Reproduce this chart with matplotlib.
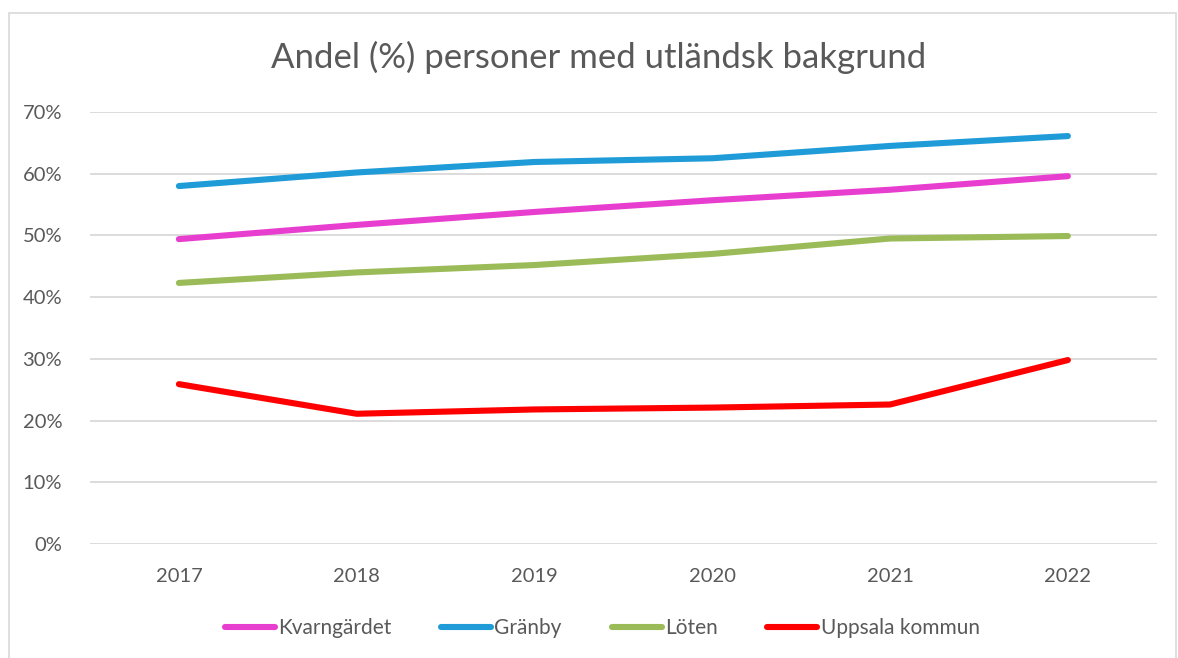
import numpy as np
import matplotlib.pyplot as plt

# data
years = ['2017', '2018', '2019', '2020', '2021', '2022']
kvarngardet = [49.4, 51.7, 53.8, 55.7, 57.4, 59.6]
granby = [58.0, 60.2, 61.9, 62.5, 64.5, 66.1]
loten = [42.3, 44.0, 45.2, 47.0, 49.5, 49.9]
uppsala = [25.9, 21.1, 21.8, 22.1, 22.6, 29.8]

series = [
    ('Kvarngärdet', kvarngardet, '#E83ECF'),
    ('Gränby', granby, '#1F9BD7'),
    ('Löten', loten, '#9BBB59'),
    ('Uppsala kommun', uppsala, '#FF0000'),
]

plt.rcParams['font.family'] = ['Lato', 'DejaVu Sans']

fig = plt.figure(figsize=(11.78, 6.58), dpi=100)
ax = fig.add_axes([0.0764, 0.1733, 0.9056, 0.6565])

x = np.arange(len(years))
for name, vals, col in series:
    ax.plot(x, vals, color=col, lw=4.4, label=name, solid_capstyle='round',
            solid_joinstyle='round')

ax.set_xlim(-0.5, len(years) - 0.5)
ax.set_ylim(0, 70)
ax.set_yticks(range(0, 71, 10))
ax.set_yticklabels([f'{v}%' for v in range(0, 71, 10)])
ax.set_xticks(x)
ax.set_xticklabels(years)
ax.grid(axis='y', color='#D9D9D9', lw=1.3)
ax.set_axisbelow(True)
for s in ax.spines.values():
    s.set_visible(False)
ax.tick_params(length=0, labelsize=14.5, colors='#595959')
ax.tick_params(axis='y', pad=20)
ax.tick_params(axis='x', pad=17)

fig.text(0.508, 0.912, 'Andel (%) personer med utländsk bakgrund', ha='center',
         va='center', fontsize=25, color='#595959')

ax.legend(loc='center', bbox_to_anchor=(0.48, -0.195), ncol=4, frameon=False,
          fontsize=15, labelcolor='#595959', handlelength=2.4,
          handletextpad=0.15, columnspacing=2.4)

# outer chart border
fig.add_artist(plt.Rectangle((0.008, -0.01), 0.99, 0.99, fill=False,
                             edgecolor='#D9D9D9', lw=1.2,
                             transform=fig.transFigure))

fig.savefig('out.png', dpi=100)
